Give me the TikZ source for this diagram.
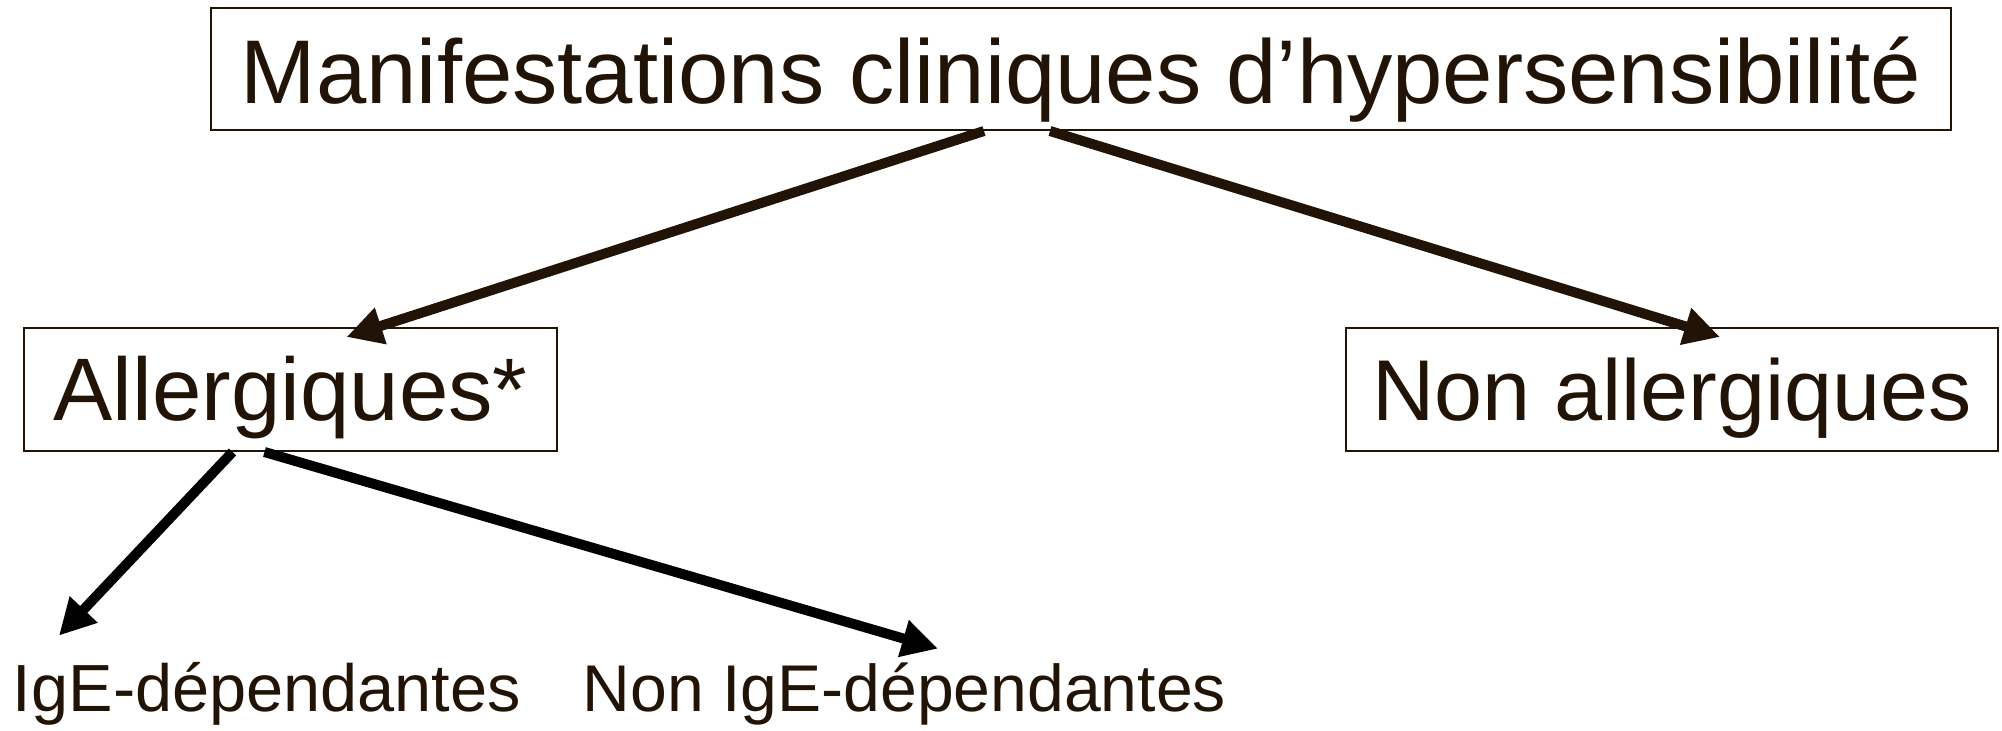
\documentclass[tikz,border=0pt]{standalone}
\usepackage{fontspec}
\setmainfont{Liberation Sans}
\usetikzlibrary{arrows.meta}
\definecolor{ink}{HTML}{211306}
\begin{document}
\begin{tikzpicture}[x=0.5pt,y=-0.5pt,
 box/.style={draw=ink, line width=1pt, inner sep=0pt, text=ink, text depth=0pt},
 leaf/.style={inner sep=0pt, text=ink, text depth=0pt, text height=24pt},
 conn/.style={draw=ink, line width=5pt, -{Triangle[length=18pt,width=18pt]}},
 connb/.style={draw=black, line width=5pt, -{Triangle[length=18pt,width=18pt]}}]
\useasboundingbox (0,0) rectangle (2002,730);
\node[box, minimum width=870pt, minimum height=61pt, text height=34pt] (top) at (1081,69)
  {\resizebox{840pt}{!}{\fontsize{48}{50}\selectfont Manifestations cliniques d’hypersensibilité}};
\node[box, minimum width=266.5pt, minimum height=61.5pt, text height=31pt] (allerg) at (290.5,389.5)
  {\resizebox{237pt}{!}{\fontsize{42}{44}\selectfont Allergiques*}};
\node[box, minimum width=326pt, minimum height=61.5pt, text height=31pt] (nonall) at (1672,389.5)
  {\resizebox{300pt}{!}{\fontsize{42}{44}\selectfont Non allergiques}};
\node[leaf] (ige) at (267,687)
  {\resizebox{254pt}{!}{\fontsize{33}{35}\selectfont IgE-dépendantes}};
\node[leaf] (nonige) at (904.5,687)
  {\resizebox{321.5pt}{!}{\fontsize{33}{35}\selectfont Non IgE-dépendantes}};
\draw[conn] ([xshift=-48.5pt]top.south) -- ([xshift=28pt,yshift=-5pt]allerg.north);
\draw[conn] ([xshift=-15.5pt]top.south) -- ([xshift=24pt,yshift=-5pt]nonall.north);
\draw[connb] ([xshift=-29pt]allerg.south) -- ([xshift=-104pt,yshift=13.5pt]ige.north);
\draw[connb] ([xshift=-13pt]allerg.south) -- ([xshift=16.75pt,yshift=7pt]nonige.north);
\end{tikzpicture}
\end{document}
